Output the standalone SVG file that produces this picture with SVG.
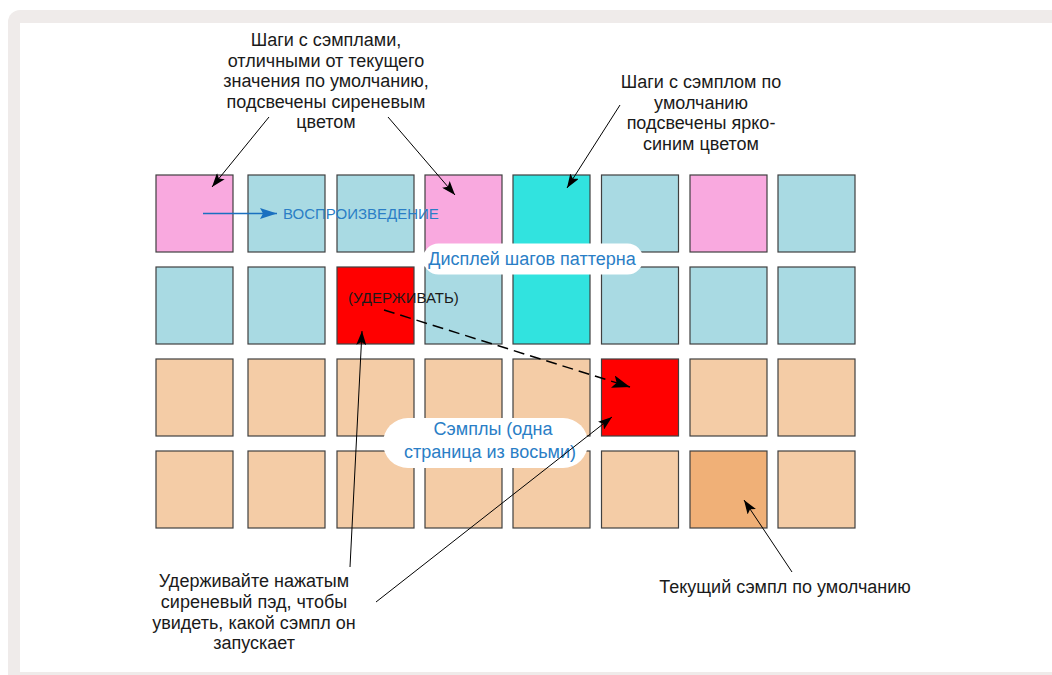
<svg xmlns="http://www.w3.org/2000/svg" width="1052" height="675" viewBox="0 0 1052 675">
<defs>
<style>
.pad{stroke:#404040;stroke-width:1.2}
.pk{fill:#F9A9DF}.lb{fill:#A9DAE3}.cy{fill:#31E3DF}.rd{fill:#FF0000}.pe{fill:#F4CCA6}.or{fill:#F0B077}
.t{font-family:"Liberation Sans",Arial,sans-serif;font-size:18px;fill:#1a1a1a;text-anchor:middle}
.b{font-family:"Liberation Sans",Arial,sans-serif;font-size:18px;fill:#2A7EC6;text-anchor:middle}
.c{stroke:#000;stroke-width:1;fill:none}
</style>
<marker id="ah" viewBox="0 0 14 10" refX="14" refY="5" markerWidth="14" markerHeight="10" markerUnits="userSpaceOnUse" orient="auto">
<path d="M0,0 L14,5 L0,10 L3,5 z" fill="#000"/>
</marker>
<marker id="ahL" viewBox="0 0 18 13" refX="18" refY="6.5" markerWidth="18" markerHeight="13" markerUnits="userSpaceOnUse" orient="auto">
<path d="M0,0 L18,6.5 L0,13 L4,6.5 z" fill="#000"/>
</marker>
<marker id="ahB" viewBox="0 0 17 11" refX="17" refY="5.5" markerWidth="17" markerHeight="11" markerUnits="userSpaceOnUse" orient="auto">
<path d="M0,0 L17,5.5 L0,11 L3,5.5 z" fill="#1A70C0"/>
</marker>
</defs>
<g id="frame">
<rect x="8" y="10" width="1100" height="700" rx="12" fill="#EFEBEA"/>
<rect x="20" y="23" width="1100" height="649" fill="#FFFFFF"/>
</g>
<g id="pads">
<g id="row1">
<rect class="pad pk" x="156" y="175" width="77" height="77"/>
<rect class="pad lb" x="248" y="175" width="77" height="77"/>
<rect class="pad lb" x="337" y="175" width="77" height="77"/>
<rect class="pad pk" x="425" y="175" width="77" height="77"/>
<rect class="pad cy" x="513" y="175" width="77" height="77"/>
<rect class="pad lb" x="601.5" y="175" width="77" height="77"/>
<rect class="pad pk" x="690" y="175" width="77" height="77"/>
<rect class="pad lb" x="778" y="175" width="77" height="77"/>
</g>
<g id="row2">
<rect class="pad lb" x="156" y="267" width="77" height="77"/>
<rect class="pad lb" x="248" y="267" width="77" height="77"/>
<rect class="pad rd" x="337" y="267" width="77" height="77"/>
<rect class="pad lb" x="425" y="267" width="77" height="77"/>
<rect class="pad cy" x="513" y="267" width="77" height="77"/>
<rect class="pad lb" x="601.5" y="267" width="77" height="77"/>
<rect class="pad lb" x="690" y="267" width="77" height="77"/>
<rect class="pad lb" x="778" y="267" width="77" height="77"/>
</g>
<g id="row3">
<rect class="pad pe" x="156" y="359" width="77" height="77"/>
<rect class="pad pe" x="248" y="359" width="77" height="77"/>
<rect class="pad pe" x="337" y="359" width="77" height="77"/>
<rect class="pad pe" x="425" y="359" width="77" height="77"/>
<rect class="pad pe" x="513" y="359" width="77" height="77"/>
<rect class="pad rd" x="601.5" y="359" width="77" height="77"/>
<rect class="pad pe" x="690" y="359" width="77" height="77"/>
<rect class="pad pe" x="778" y="359" width="77" height="77"/>
</g>
<g id="row4">
<rect class="pad pe" x="156" y="451" width="77" height="77"/>
<rect class="pad pe" x="248" y="451" width="77" height="77"/>
<rect class="pad pe" x="337" y="451" width="77" height="77"/>
<rect class="pad pe" x="425" y="451" width="77" height="77"/>
<rect class="pad pe" x="513" y="451" width="77" height="77"/>
<rect class="pad pe" x="601.5" y="451" width="77" height="77"/>
<rect class="pad or" x="690" y="451" width="77" height="77"/>
<rect class="pad pe" x="778" y="451" width="77" height="77"/>
</g>
</g>
<g id="label-display">
<rect x="423" y="243.5" width="220" height="31" rx="15.5" fill="#FFFFFF"/>
<text class="b" x="532" y="265">Дисплей шагов паттерна</text>
</g>
<g id="label-samples">
<rect x="383" y="418" width="205" height="50" rx="25" fill="#FFFFFF"/>
<text class="b" x="493" y="435">Сэмплы (одна</text>
<text class="b" x="490" y="458">страница из восьми)</text>
</g>
<g id="label-play">
<text x="283" y="218.5" font-family="Liberation Sans, Arial, sans-serif" font-size="15" fill="#2A7EC6">ВОСПРОИЗВЕДЕНИЕ</text>
</g>
<g id="label-hold">
<text x="348" y="302.5" font-family="Liberation Sans, Arial, sans-serif" font-size="15" fill="#1a1a1a">(УДЕРЖИВАТЬ)</text>
</g>
<g id="note-topleft">
<text class="t" x="326" y="46">Шаги с сэмплами,</text>
<text class="t" x="326" y="66.5">отличными от текущего</text>
<text class="t" x="326" y="87">значения по умолчанию,</text>
<text class="t" x="326" y="107.5">подсвечены сиреневым</text>
<text class="t" x="326" y="128">цветом</text>
</g>
<g id="note-topright">
<text class="t" x="701" y="88">Шаги с сэмплом по</text>
<text class="t" x="701" y="108.5">умолчанию</text>
<text class="t" x="701" y="129">подсвечены ярко-</text>
<text class="t" x="701" y="149.5">синим цветом</text>
</g>
<g id="note-bottomleft">
<text class="t" x="254" y="587">Удерживайте нажатым</text>
<text class="t" x="254" y="608">сиреневый пэд, чтобы</text>
<text class="t" x="254" y="628.5">увидеть, какой сэмпл он</text>
<text class="t" x="254" y="649">запускает</text>
</g>
<g id="note-bottomright">
<text class="t" x="785" y="593">Текущий сэмпл по умолчанию</text>
</g>
<g id="connectors">
<line class="c" x1="269" y1="117" x2="212" y2="187" marker-end="url(#ah)"/>
<line class="c" x1="388" y1="117" x2="455" y2="195" marker-end="url(#ah)"/>
<line class="c" x1="620" y1="105" x2="567" y2="188" marker-end="url(#ah)"/>
<line x1="203" y1="213.5" x2="277" y2="213.5" stroke="#1A70C0" stroke-width="1.3" marker-end="url(#ahB)"/>
<line x1="384" y1="310" x2="630" y2="387" stroke="#000" stroke-width="1.5" stroke-dasharray="11 6" marker-end="url(#ahL)"/>
<line class="c" x1="350" y1="567" x2="362" y2="331" marker-end="url(#ah)"/>
<line class="c" x1="376" y1="602" x2="612" y2="417" marker-end="url(#ah)"/>
<line class="c" x1="792" y1="572" x2="744" y2="500" marker-end="url(#ah)"/>
</g>
</svg>
